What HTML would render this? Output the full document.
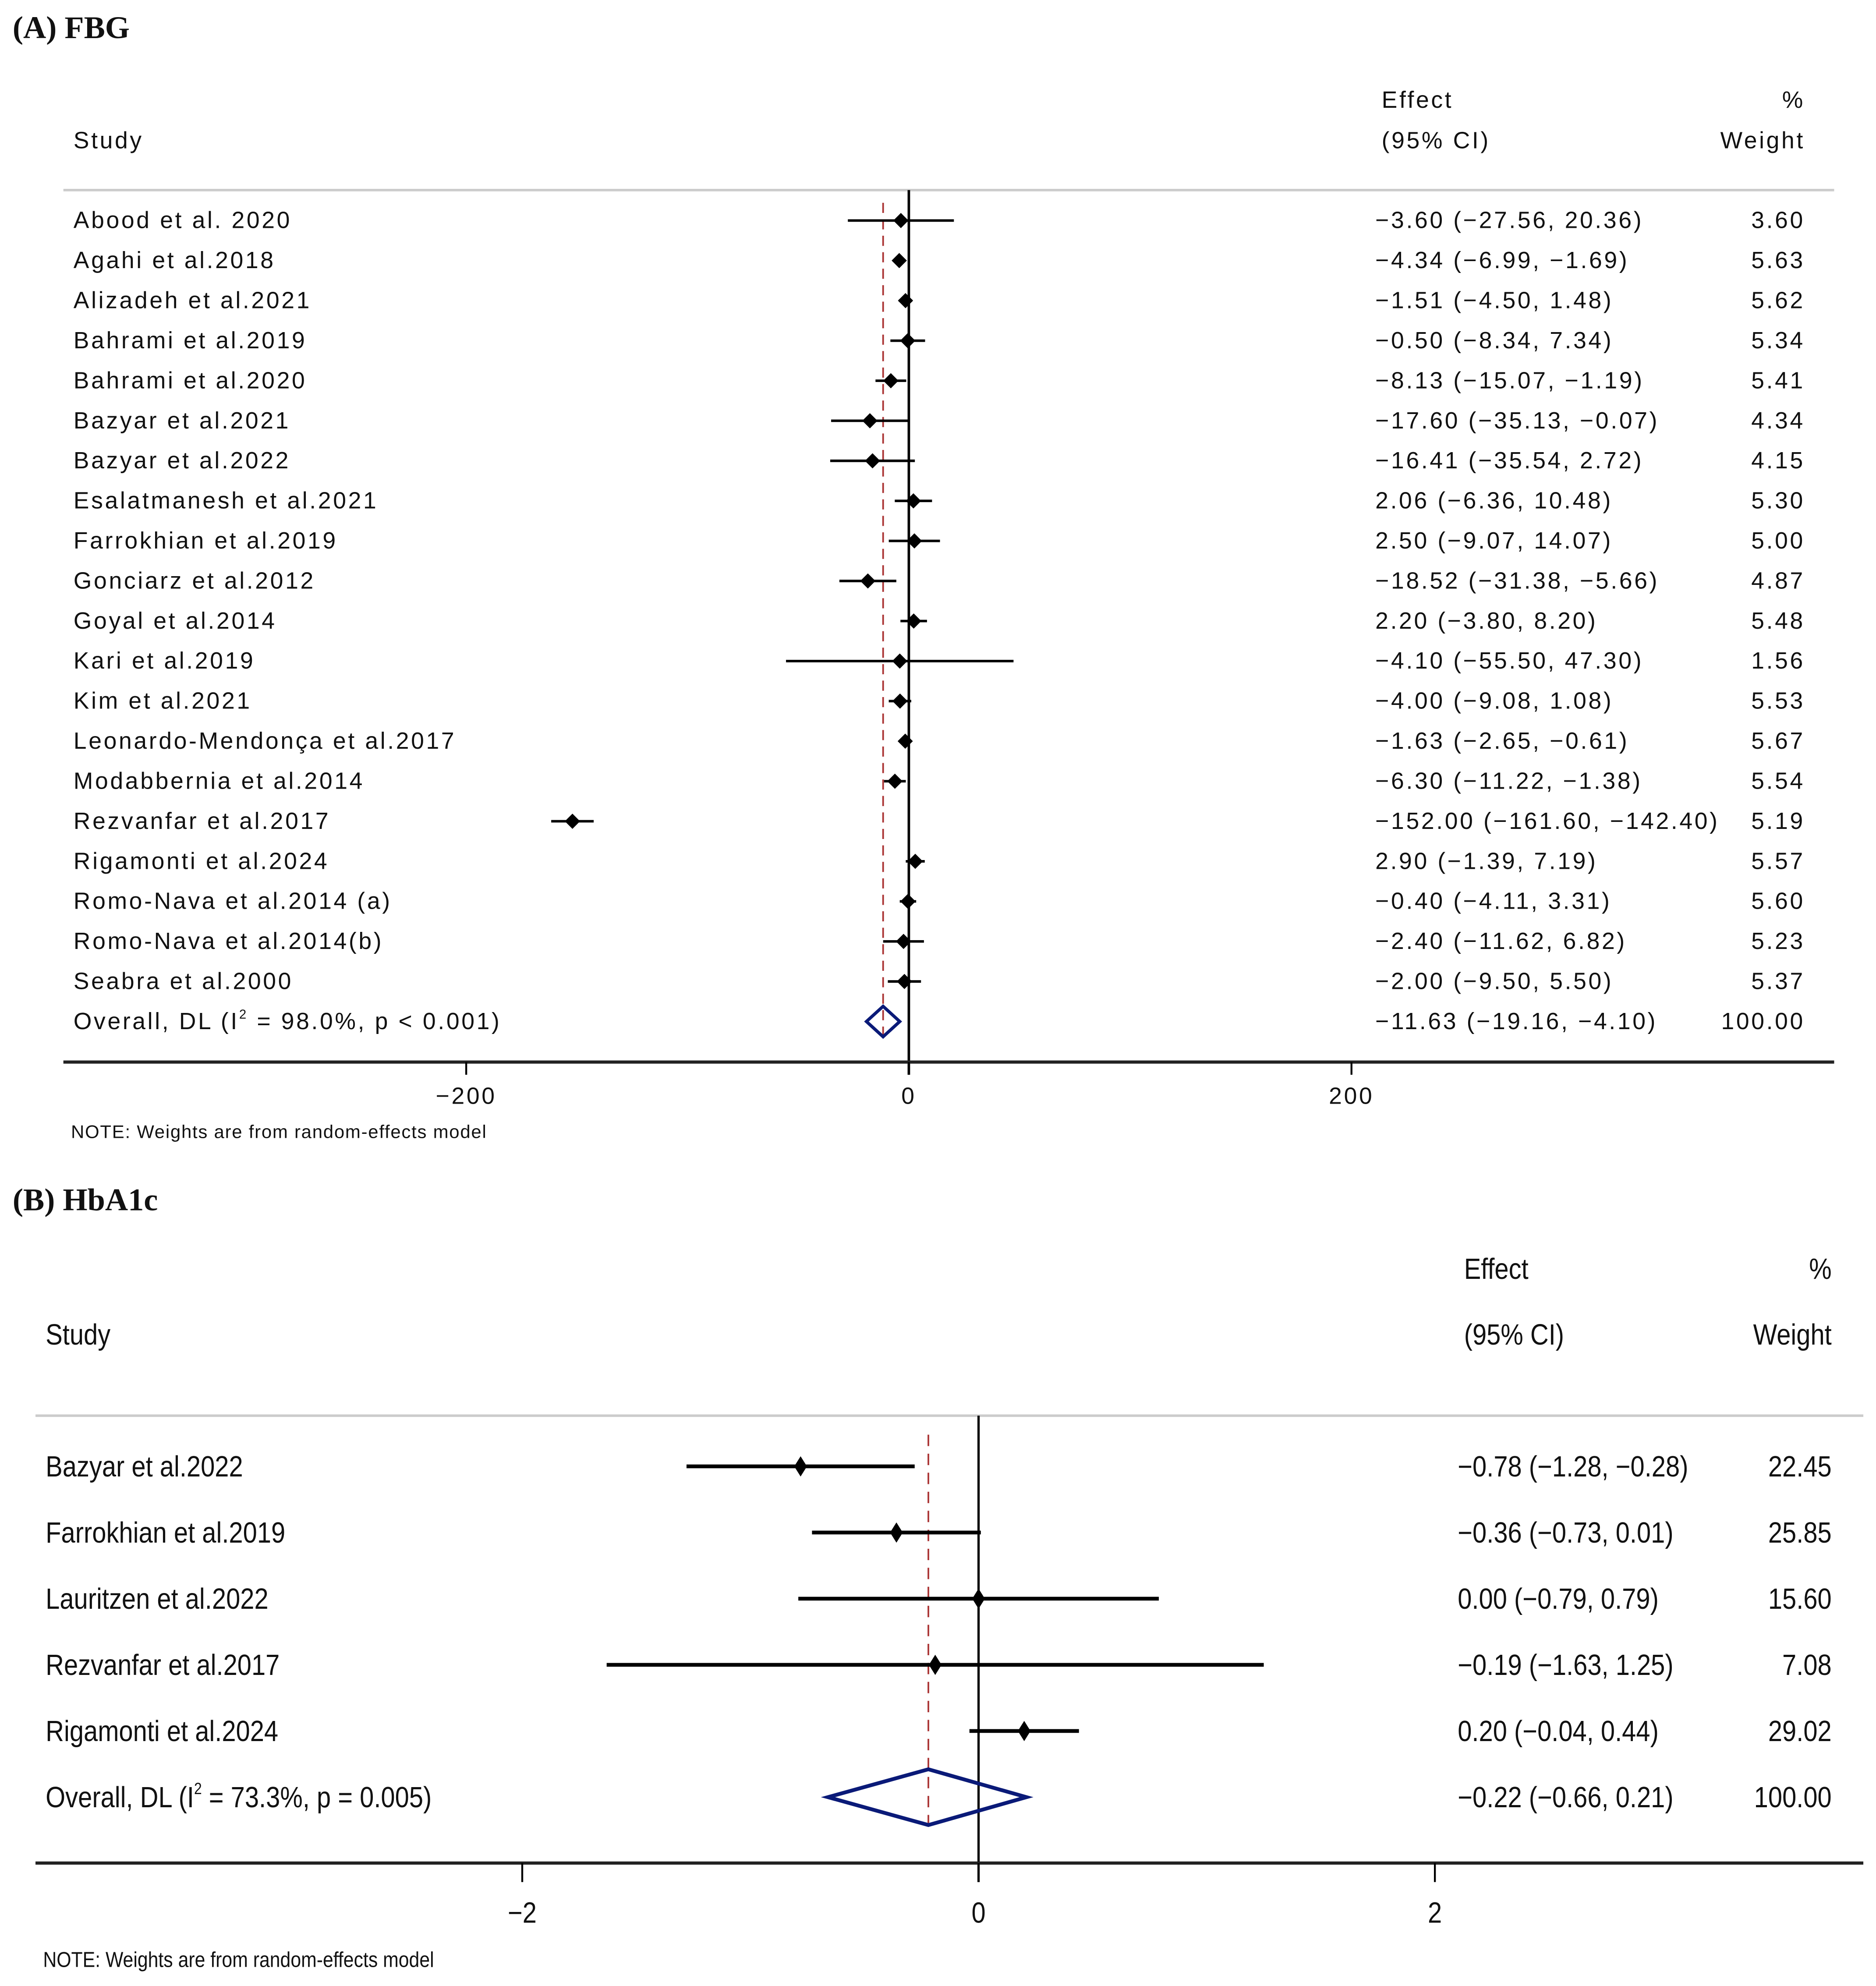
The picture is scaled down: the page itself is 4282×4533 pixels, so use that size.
<!DOCTYPE html>
<html><head><meta charset="utf-8"><style>
html,body{margin:0;padding:0;background:#fff;}
svg{display:block;}
text{font-family:"Liberation Sans",sans-serif;fill:#111;}
.ttl{font-family:"Liberation Serif",serif;font-weight:bold;font-size:25px;}
</style></head><body>
<svg id="chart" width="4282" height="4533" viewBox="0 0 1480 1567" preserveAspectRatio="none" xmlns="http://www.w3.org/2000/svg">
<rect width="1480" height="1567" fill="#fff"/>
<text class="ttl" x="10" y="30">(A) FBG</text>
<text class="ttl" x="10" y="955">(B) HbA1c</text>
<g id="pa"></g>
<g id="pb"></g>
</svg>
<script>
const NS="http://www.w3.org/2000/svg";
// ---- Panel A data ----
const aStudies=["Abood et al. 2020","Agahi et al.2018","Alizadeh et al.2021","Bahrami et al.2019","Bahrami et al.2020","Bazyar et al.2021","Bazyar et al.2022","Esalatmanesh et al.2021","Farrokhian et al.2019","Gonciarz et al.2012","Goyal  et al.2014","Kari et al.2019","Kim et al.2021","Leonardo-Mendonça et al.2017","Modabbernia et al.2014","Rezvanfar et al.2017","Rigamonti et al.2024","Romo-Nava et al.2014 (a)","Romo-Nava et al.2014(b)","Seabra et al.2000"];
const aEff=[-3.60,-4.34,-1.51,-0.50,-8.13,-17.60,-16.41,2.06,2.50,-18.52,2.20,-4.10,-4.00,-1.63,-6.30,-152.00,2.90,-0.40,-2.40,-2.00];
const aLo=[-27.56,-6.99,-4.50,-8.34,-15.07,-35.13,-35.54,-6.36,-9.07,-31.38,-3.80,-55.50,-9.08,-2.65,-11.22,-161.60,-1.39,-4.11,-11.62,-9.50];
const aHi=[20.36,-1.69,1.48,7.34,-1.19,-0.07,2.72,10.48,14.07,-5.66,8.20,47.30,1.08,-0.61,-1.38,-142.40,7.19,3.31,6.82,5.50];
const aWt=["3.60","5.63","5.62","5.34","5.41","4.34","4.15","5.30","5.00","4.87","5.48","1.56","5.53","5.67","5.54","5.19","5.57","5.60","5.23","5.37"];
const aOverall=[-11.63,-19.16,-4.10];
const aTicks=[-200,0,200];
// ---- Panel B data ----
const bStudies=["Bazyar et al.2022","Farrokhian et al.2019","Lauritzen et al.2022","Rezvanfar et al.2017","Rigamonti et al.2024"];
const bEff=[-0.78,-0.36,0.00,-0.19,0.20];
const bLo=[-1.28,-0.73,-0.79,-1.63,-0.04];
const bHi=[-0.28,0.01,0.79,1.25,0.44];
const bWt=["22.45","25.85","15.60","7.08","29.02"];
const bOverall=[-0.22,-0.66,0.21];
const bTicks=[-2,0,2];

function fmt(v){return (v<0?"\u2212":"")+Math.abs(v).toFixed(2);}
function mk(parent,tag,attrs,txt){const e=document.createElementNS(NS,tag);for(const k in attrs)e.setAttribute(k,attrs[k]);if(txt!==undefined)e.textContent=txt;parent.appendChild(e);return e;}

function panel(g,cfg,studies,eff,lo,hi,wt,overall,ticks,p){
  const X=v=>cfg.x0+v*cfg.k;
  const Y=i=>cfg.row0+i*cfg.dy;
  const fs=cfg.fs, sx=cfg.sx;
  const T=(x,y,s,anchor,name)=>{const t=mk(g,"text",{x:x/sx,y:y,"font-size":fs,"text-anchor":anchor||"start",transform:`scale(${sx},1)`,"letter-spacing":cfg.ls},s);
    
    return t;};
  T(cfg.effX+5,cfg.h1,"Effect","start",p+"effect-header");
  T(cfg.wR,cfg.h1,"%","end",p+"percent-header");
  T(cfg.lx,cfg.h2,"Study","start",p+"study-header");
  T(cfg.effX+5,cfg.h2,"(95% CI)","start",p+"ci-header");
  T(cfg.wR,cfg.h2,"Weight","end",p+"weight-header");
  let l=mk(g,"line",{x1:cfg.L,x2:cfg.R,y1:cfg.gy,y2:cfg.gy,stroke:"#ccc","stroke-width":2});
  
  
  l=mk(g,"line",{x1:X(0),x2:X(0),y1:cfg.gy,y2:cfg.ay+cfg.tl,stroke:"#000","stroke-width":cfg.zw});
  
  
  l=mk(g,"line",{x1:X(overall[0]),x2:X(overall[0]),y1:cfg.d0,y2:cfg.d1,stroke:"#a33","stroke-width":1.3,"stroke-dasharray":cfg.dash});
  
  
  studies.forEach((s,i)=>{
    const y=Y(i);
    T(cfg.lx,y+cfg.to,s,"start",p+"study-label");
    const ci=mk(g,"line",{x1:X(lo[i]),x2:X(hi[i]),y1:y,y2:y,stroke:"#000","stroke-width":cfg.cw});
    
    
    const cx=X(eff[i]),a=cfg.mw,b=cfg.mh;
    const d=mk(g,"polygon",{points:`${cx-a},${y} ${cx},${y-b} ${cx+a},${y} ${cx},${y+b}`,fill:"#000"});
    
    
    T(cfg.effX,y+cfg.to,`${fmt(eff[i])} (${fmt(lo[i])}, ${fmt(hi[i])})`,"start",p+"effect-ci-value");
    T(cfg.wR,y+cfg.to,wt[i],"end",p+"weight-value");
  });
  const yo=Y(studies.length);
  const ol=T(cfg.lx,yo+cfg.to,"","start",p+"overall-label");
  ol.appendChild(document.createTextNode("Overall, DL (I"));
  mk(ol,"tspan",{dy:-cfg.fs*0.45,"font-size":fs*0.55},"2");
  mk(ol,"tspan",{dy:cfg.fs*0.45},` = ${cfg.i2})`);
  const dm=mk(g,"polygon",{points:`${X(overall[1])},${yo} ${X(overall[0])},${yo-cfg.dh} ${X(overall[2])},${yo} ${X(overall[0])},${yo+cfg.dh}`,fill:"none",stroke:"#0a1a78","stroke-width":cfg.dw});
  
  
  T(cfg.effX,yo+cfg.to,`${fmt(overall[0])} (${fmt(overall[1])}, ${fmt(overall[2])})`,"start",p+"overall-effect-value");
  T(cfg.wR,yo+cfg.to,"100.00","end",p+"overall-weight");
  l=mk(g,"line",{x1:cfg.L,x2:cfg.R,y1:cfg.ay,y2:cfg.ay,stroke:"#222","stroke-width":2.5});
  
  
  ticks.forEach(t=>{
    const tk=mk(g,"line",{x1:X(t),x2:X(t),y1:cfg.ay,y2:cfg.ay+cfg.tl,stroke:"#000","stroke-width":1.5});
    
    
    T(X(t),cfg.tly,t<0?"\u2212"+Math.abs(t):String(t),"middle",p+"x-tick-label");
  });
  const n=mk(g,"text",{x:cfg.nx/sx,y:cfg.ny,"font-size":cfg.nfs,transform:`scale(${sx},1)`,"letter-spacing":cfg.nls},"NOTE: Weights are from random-effects model");
  
  
}
panel(document.getElementById("pa"),{x0:717,k:1.746,row0:174,dy:31.6,fs:18.5,sx:1,ls:1.6,lx:58,effX:1085,wR:1424,h1:85,h2:117,L:50,R:1447,gy:150,ay:838,tl:10,zw:2,d0:160,d1:818,dash:"8,5",to:6,cw:2,mw:6,mh:6,dh:12,dw:2.5,i2:"98.0%, p < 0.001",tly:871,nx:56,ny:898,nfs:14.5,nls:0.6},
  aStudies,aEff,aLo,aHi,aWt,aOverall,aTicks,"fbg-");
panel(document.getElementById("pb"),{x0:772,k:180,row0:1157,dy:52.2,fs:23,sx:0.87,ls:0,lx:36,effX:1150,wR:1445,h1:1009,h2:1061,L:28,R:1470,gy:1117,ay:1470,tl:15,zw:1.8,d0:1132,d1:1442,dash:"9,6",to:8,cw:3,mw:5,mh:8,dh:22,dw:3,i2:"73.3%, p = 0.005",tly:1517,nx:34,ny:1552,nfs:17,nls:0},
  bStudies,bEff,bLo,bHi,bWt,bOverall,bTicks,"hba1c-");
</script>
</body></html>
